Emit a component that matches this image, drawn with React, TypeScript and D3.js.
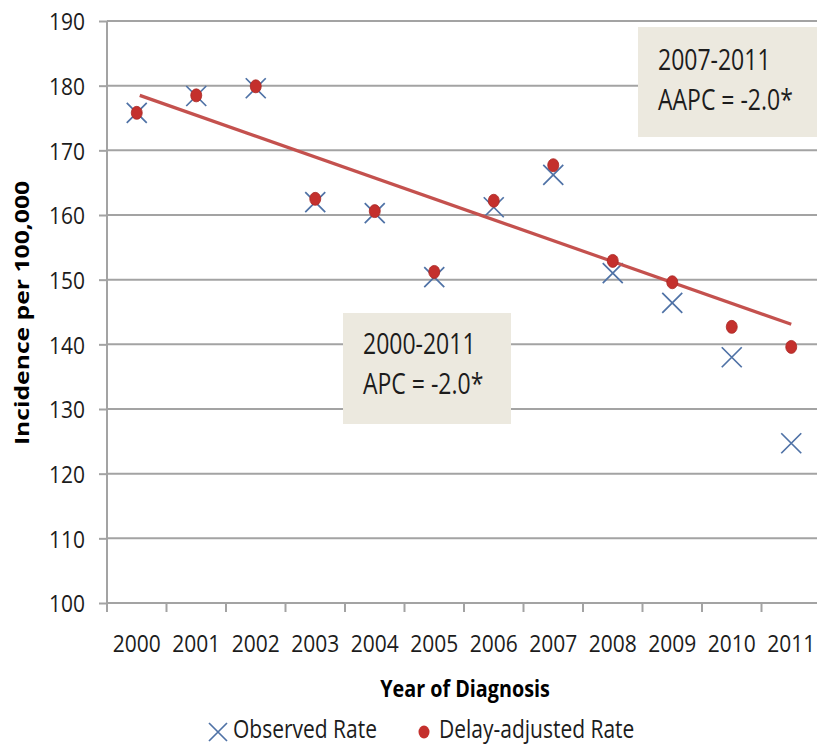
import React, { useRef, useEffect } from 'react';
import * as d3 from 'd3';

// values
const years = ['2000', '2001', '2002', '2003', '2004', '2005', '2006', '2007', '2008', '2009', '2010', '2011'];
const observedRate = [175.8, 178.4, 179.6, 162.0, 160.3, 150.4, 161.2, 166.2, 151.0, 146.4, 138.0, 124.7];
const delayAdjustedRate = [175.8, 178.5, 179.9, 162.5, 160.6, 151.2, 162.2, 167.7, 152.9, 149.6, 142.7, 139.6];
const trendYears = ['2000', '2011'];
const trendValues = [178.5, 143.1];
const yTicks = [100, 110, 120, 130, 140, 150, 160, 170, 180, 190];

const fullLabel = ['2000-2011', 'APC = -2.0*'];
const recentLabel = ['2007-2011', 'AAPC = -2.0*'];
const legendLabels = ['Observed Rate', 'Delay-adjusted Rate'];

const W = 817;
const H = 746;
const FONT = '"Open Sans", "Noto Sans", sans-serif';
const TEXT = '#1c1c1c';
const GRID = '#a3a3a3';
const BLUE = '#4f72a6';
const RED = '#c4302d';
const TREND = '#c4514e';
const BOX = '#ece9df';

const App: React.FC = () => {
   const svgRef = useRef<SVGSVGElement | null>(null);

   useEffect(() => {
      if (!svgRef.current) return;
      const svg = d3.select(svgRef.current);
      svg.selectAll('*').remove();

      const left = 107;
      const step = 59.5;
      const x = d3.scaleBand<string>().domain(years).range([left, left + step * years.length]);
      const y = d3.scaleLinear().domain([100, 190]).range([603, 21]);
      const cx = (d: string) => (x(d) ?? 0) + x.bandwidth() / 2;

      svg.append('rect').attr('width', W).attr('height', H).attr('fill', 'white');

      // horizontal gridlines
      svg.append('g')
         .selectAll('line')
         .data(yTicks)
         .join('line')
         .attr('x1', left)
         .attr('x2', W)
         .attr('y1', (d) => y(d))
         .attr('y2', (d) => y(d))
         .attr('stroke', GRID)
         .attr('stroke-width', 2);

      // y axis
      const yAxis = svg.append('g')
         .attr('transform', `translate(${left},0)`)
         .call(d3.axisLeft(y).tickValues(yTicks).tickSizeInner(8).tickSizeOuter(0).tickPadding(14));
      yAxis.select('.domain').remove();
      yAxis.append('line')
         .attr('y1', y(190))
         .attr('y2', y(100) + 9)
         .attr('stroke', GRID)
         .attr('stroke-width', 2);
      yAxis.selectAll('.tick line').attr('stroke', GRID).attr('stroke-width', 2);
      yAxis.selectAll('.tick text')
         .attr('fill', TEXT)
         .attr('font-family', FONT)
         .attr('font-size', 21)
         .attr('dy', '0.36em')
         .attr('transform', 'scale(1,1.15)');

      // x axis: ticks on band boundaries
      const boundaries = years.map((d) => x(d) ?? 0).concat([x.range()[1]]);
      svg.append('g')
         .selectAll('line')
         .data(boundaries)
         .join('line')
         .attr('x1', (d) => d)
         .attr('x2', (d) => d)
         .attr('y1', y(100))
         .attr('y2', y(100) + 9)
         .attr('stroke', GRID)
         .attr('stroke-width', 2);

      const xAxis = svg.append('g')
         .attr('transform', `translate(0,${y(100)})`)
         .call(d3.axisBottom(x).tickSize(0).tickPadding(0));
      xAxis.select('.domain').remove();
      xAxis.selectAll('.tick text')
         .attr('fill', TEXT)
         .attr('font-family', FONT)
         .attr('font-size', 21)
         .attr('y', 0)
         .attr('dy', 0)
         .attr('transform', 'translate(0,49) scale(1,1.15)');

      // axis titles
      svg.append('text')
         .attr('transform', `translate(465,697) scale(1.04,1.25)`)
         .attr('text-anchor', 'middle')
         .attr('font-family', FONT)
         .attr('font-weight', 700)
         .attr('font-size', 19)
         .attr('fill', '#000')
         .text('Year of Diagnosis');

      svg.append('text')
         .attr('transform', `translate(29,313) rotate(-90) scale(1.3,1)`)
         .attr('text-anchor', 'middle')
         .attr('font-family', FONT)
         .attr('font-weight', 700)
         .attr('font-size', 19)
         .attr('fill', '#000')
         .text('Incidence per 100,000');

      // annotation boxes
      const drawBox = (lines: string[], bx: number, by: number, bw: number, bh: number, tx: number, ty: number) => {
         const g = svg.append('g');
         g.append('rect')
            .attr('x', bx)
            .attr('y', by)
            .attr('width', bw)
            .attr('height', bh)
            .attr('fill', BOX);
         lines.forEach((line, i) => {
            g.append('text')
               .attr('transform', `translate(${tx},${ty + i * 40}) scale(1,1.3)`)
               .attr('font-family', FONT)
               .attr('font-size', 23)
               .attr('fill', TEXT)
               .text(line);
         });
      };
      drawBox(recentLabel, 638, 27, 190, 110, 658, 70);
      drawBox(fullLabel, 343, 313, 168, 111, 363, 354);

      // observed rate markers
      const xMark = (g: d3.Selection<SVGGElement, unknown, null, undefined>, px: number, py: number, r: number) => {
         g.append('path')
            .attr('d', `M${px - r},${py - r}L${px + r},${py + r}M${px - r},${py + r}L${px + r},${py - r}`)
            .attr('stroke', BLUE)
            .attr('stroke-width', 1.7)
            .attr('fill', 'none');
      };
      const obs = svg.append('g');
      years.forEach((d, i) => xMark(obs, cx(d), y(observedRate[i]), 10));

      // trend line
      const line = d3.line<number>()
         .x((_, i) => cx(trendYears[i]) + (i === 0 ? 3 : 0))
         .y((d) => y(d));
      svg.append('path')
         .datum(trendValues)
         .attr('d', line)
         .attr('fill', 'none')
         .attr('stroke', TREND)
         .attr('stroke-width', 3.2);

      // delay-adjusted dots
      svg.append('g')
         .selectAll('ellipse')
         .data(delayAdjustedRate)
         .join('ellipse')
         .attr('cx', (_, i) => cx(years[i]))
         .attr('cy', (d) => y(d))
         .attr('rx', 5.5)
         .attr('ry', 6.5)
         .attr('fill', RED)
         .attr('stroke', '#a82825')
         .attr('stroke-width', 0.8);

      // legend
      const legend = svg.append('g');
      xMark(legend, 218, 732, 9);
      legend.append('ellipse')
         .attr('cx', 424)
         .attr('cy', 732)
         .attr('rx', 5.5)
         .attr('ry', 6.5)
         .attr('fill', RED);
      [233, 439].forEach((lx, i) => {
         legend.append('text')
            .attr('transform', `translate(${lx},738) scale(1,1.18)`)
            .attr('font-family', FONT)
            .attr('font-size', 21)
            .attr('fill', TEXT)
            .text(legendLabels[i]);
      });
   }, []);

   return (
      <svg
         ref={svgRef}
         width={W}
         height={H}
         style={{ position: 'absolute', left: 0, top: 0, display: 'block' }}
      />
   );
};

export default App;
